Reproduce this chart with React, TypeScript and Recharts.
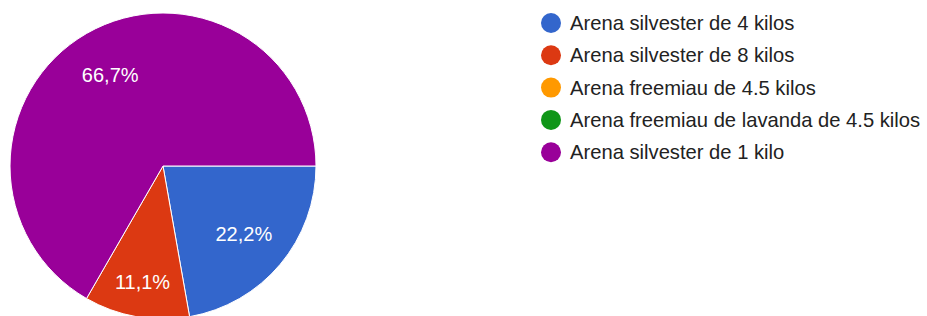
import { PieChart, Pie, Cell } from 'recharts'

const nombres = [
  'Arena silvester de 4 kilos',
  'Arena silvester de 8 kilos',
  'Arena freemiau de 4.5 kilos',
  'Arena freemiau de lavanda de 4.5 kilos',
  'Arena silvester de 1 kilo',
]
const respuestas = [2, 1, 0, 0, 6]
const colores = ['#3366cc', '#dc3912', '#ff9900', '#109618', '#990099']

const dados = nombres.map((name, i) => ({ name, value: respuestas[i] }))

const FONT = '"Liberation Sans", Arial, sans-serif'

const RADIAN = Math.PI / 180

function renderLabel(props: any) {
  const { cx, cy, midAngle, outerRadius, percent } = props
  if (!percent) return null
  // google charts pushes labels of thin slices a bit further out
  const r = outerRadius * (percent < 0.15 ? 0.77 : 0.69)
  const x = cx + r * Math.cos(-midAngle * RADIAN)
  const y = cy + r * Math.sin(-midAngle * RADIAN)
  return (
    <text x={x} y={y} fill="#fff" textAnchor="middle" dominantBaseline="central" fontSize={20} fontFamily={FONT}>
      {(percent * 100).toFixed(1).replace('.', ',') + '%'}
    </text>
  )
}

function Leyenda() {
  return (
    <svg width={390} height={175} style={{ position: 'absolute', left: 540, top: 0 }}>
      {nombres.map((n, i) => (
        <g key={n}>
          <circle cx={11} cy={23 + i * 32.3} r={10} fill={colores[i]} />
          <text x={30} y={23 + i * 32.3} dominantBaseline="central" fontSize={20.2} fontFamily={FONT} fill="#222">
            {n}
          </text>
        </g>
      ))}
    </svg>
  )
}

export default function App() {
  return (
    <div style={{ position: 'absolute', left: 0, top: 0, width: 927, height: 316, background: '#fff' }}>
      <PieChart width={927} height={316} margin={{ top: 0, right: 0, bottom: 0, left: 0 }}>
        <Pie
          data={dados}
          dataKey="value"
          cx={163}
          cy={166}
          outerRadius={153}
          startAngle={0}
          endAngle={-360}
          stroke="#fff"
          strokeWidth={1}
          label={renderLabel}
          labelLine={false}
          isAnimationActive={false}
        >
          {dados.map((d, i) => <Cell key={d.name} fill={colores[i]} />)}
        </Pie>
      </PieChart>
      <Leyenda />
    </div>
  )
}
